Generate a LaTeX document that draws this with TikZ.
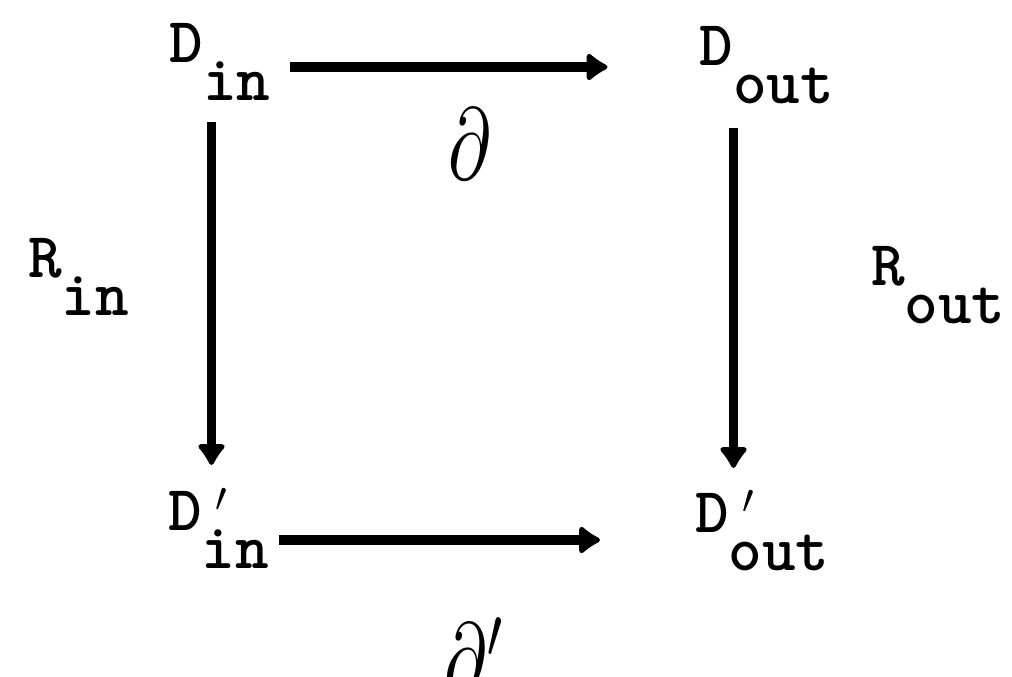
\documentclass[tikz,border=0pt]{standalone}
\usepackage{graphicx}
\usetikzlibrary{arrows.meta}
\newcommand\vsub[1]{\raisebox{-19pt}{#1}}
\newcommand\vprm{\rlap{\hspace{7pt}$'$}}
\tikzset{
  vtx/.style={inner sep=0pt, outer sep=0pt, anchor=base west,
    font=\fontsize{32}{32}\selectfont\ttfamily\bfseries},
  dlbl/.style={inner sep=0pt, outer sep=0pt, anchor=base west,
    font=\fontsize{10}{10}\selectfont},
  arr/.style={line width=4.6pt, -{Latex[length=12pt,width=17pt,round]}}
}
\begin{document}
\begin{tikzpicture}[x=0.5pt,y=-0.5pt]
\fill[white] (0,0) rectangle (1012,676);
\useasboundingbox (0,0) rectangle (1012,676);
\node[vtx] (Din)   at (169.5,62) {D\vsub{in}};
\node[vtx] (Dout)  at (699.5,65) {D\vsub{out}};
\node[vtx] (Dpin)  at (168,530)  {D\vprm\vsub{in}};
\node[vtx] (Dpout) at (695,532)  {D\vprm\vsub{out}};
\node[vtx] (Rin)   at (28,277)   {R\vsub{in}};
\node[vtx] (Rout)  at (871,285)  {R\vsub{out}};
\node[dlbl] (d)  at (448,179) {\scalebox{3.6}[5.1]{$\partial$}};
\node[dlbl] (dp) at (444,694) {\scalebox{3.6}[5.1]{$\partial'$}};
% horizontal arrows
\draw[arr, shorten <=10pt, shorten >=46pt]
  ([yshift=-2.5pt]Din.base east) -- ([yshift=-2.5pt]Din.base east -| Dout.west);
\draw[arr, shorten <=5pt, shorten >=47.5pt]
  ([yshift=-5pt]Dpin.base east) -- ([yshift=-5pt]Dpin.base east -| Dpout.west);
% vertical arrows
\draw[arr, shorten <=11pt, shorten >=12pt]
  ([xshift=21pt]Din.south west) -- ([xshift=21pt]Din.south west |- Dpin.north);
\draw[arr, shorten <=12.5pt, shorten >=11.5pt]
  ([xshift=17pt]Dout.south west) -- ([xshift=17pt]Dout.south west |- Dpout.north);
\end{tikzpicture}
\end{document}
